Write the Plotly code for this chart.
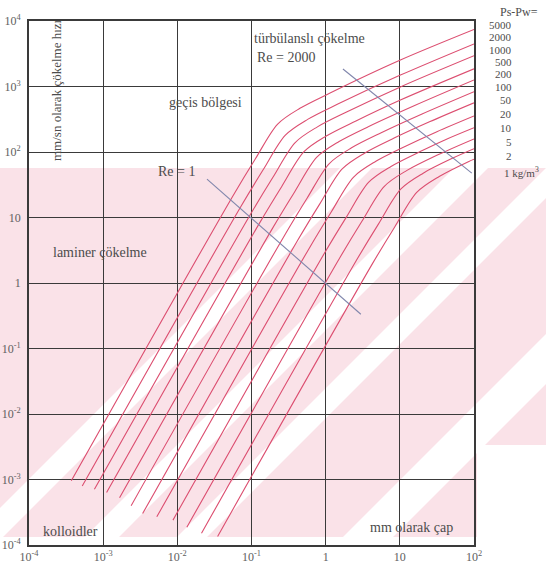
import numpy as np
import plotly.graph_objects as go

# ---------------- values ----------------
# density difference labels (right side), top curve first
density_labels = ["5000", "2000", "1000", "500", "200", "100", "50", "20", "10", "5", "2",
                  "1 kg/m<sup>3</sup>"]

# each curve: log10(diameter, mm) and log10(settling velocity, mm/s)
d_5000 = [-3.43, -1.247, -0.947, -0.647, -0.347, 0.053, 1.0, 2.0]
v_5000 = [-3.02, 1.337, 1.897, 2.427, 2.667, 2.897, 3.40, 3.87]
d_2000 = [-3.282, -1.143, -0.843, -0.543, -0.243, 0.157, 1.0, 2.0]
v_2000 = [-3.10, 1.168, 1.728, 2.258, 2.498, 2.728, 3.17, 3.65]
d_1000 = [-3.118, -1.011, -0.711, -0.411, -0.111, 0.289, 1.0, 2.0]
v_1000 = [-3.15, 1.054, 1.614, 2.144, 2.384, 2.614, 2.99, 3.47]
d_500 = [-2.954, -0.892, -0.592, -0.292, 0.008, 0.408, 1.0, 2.0]
v_500 = [-3.20, 0.914, 1.474, 2.004, 2.244, 2.474, 2.79, 3.27]
d_200 = [-2.779, -0.719, -0.419, -0.119, 0.181, 0.581, 1.2, 2.0]
v_200 = [-3.28, 0.83, 1.39, 1.92, 2.16, 2.39, 2.71, 3.10]
d_100 = [-2.623, -0.551, -0.251, 0.049, 0.349, 0.749, 1.3, 2.0]
v_100 = [-3.40, 0.734, 1.294, 1.824, 2.064, 2.294, 2.58, 2.92]
d_50 = [-2.468, -0.377, -0.077, 0.223, 0.523, 0.923, 1.4, 2.0]
v_50 = [-3.52, 0.652, 1.212, 1.742, 1.982, 2.212, 2.46, 2.75]
d_20 = [-2.277, -0.223, 0.077, 0.377, 0.677, 1.077, 1.5, 2.0]
v_20 = [-3.57, 0.528, 1.088, 1.618, 1.858, 2.088, 2.31, 2.55]
d_10 = [-2.059, -0.019, 0.281, 0.581, 0.881, 1.281, 1.6, 2.0]
v_10 = [-3.62, 0.45, 1.01, 1.54, 1.78, 2.01, 2.18, 2.37]
d_5 = [-1.872, 0.191, 0.491, 0.791, 1.091, 1.491, 2.0]
v_5 = [-3.73, 0.386, 0.946, 1.476, 1.716, 1.946, 2.20]
d_2 = [-1.674, 0.415, 0.715, 1.015, 1.315, 1.715, 2.0]
v_2 = [-3.82, 0.347, 0.907, 1.437, 1.677, 1.907, 2.05]
d_1 = [-1.457, 0.631, 0.931, 1.231, 1.531, 1.931, 2.0]
v_1 = [-3.87, 0.296, 0.856, 1.386, 1.626, 1.856, 1.89]

# Reynolds-number guide lines (diameter mm, velocity mm/s)
re1_d = [0.0251, 2.98]
re1_v = [38.5, 0.333]
re2000_d = [1.71, 93.3]
re2000_v = [1848, 47.5]

# axis ticks
x_tickvals = [1e-4, 1e-3, 1e-2, 1e-1, 1, 10, 100]
x_ticktext = ["10<sup>-4</sup>", "10<sup>-3</sup>", "10<sup>-2</sup>", "10<sup>-1</sup>", "1", "10", "10<sup>2</sup>"]
y_tickvals = [1e-4, 1e-3, 1e-2, 1e-1, 1, 10, 100, 1e3, 1e4]
y_ticktext = ["10<sup>-4</sup>", "10<sup>-3</sup>", "10<sup>-2</sup>", "10<sup>-1</sup>", "1", "10",
              "10<sup>2</sup>", "10<sup>3</sup>", "10<sup>4</sup>"]

curves_d = [d_5000, d_2000, d_1000, d_500, d_200, d_100, d_50, d_20, d_10, d_5, d_2, d_1]
curves_v = [v_5000, v_2000, v_1000, v_500, v_200, v_100, v_50, v_20, v_10, v_5, v_2, v_1]

# ---------------- figure ----------------
W, H = 546, 573
L, R, T, B = 29, 474, 21, 545          # plot frame in window pixels
SERIF = "Liberation Serif"
TXT = "#4c4c4c"
GRID = "#3a3a3a"


def P(px, py):
    return (px - L) / (R - L), (B - py) / (B - T)


fig = go.Figure()

for dd, vv in zip(curves_d, curves_v):
    fig.add_trace(go.Scatter(
        x=10 ** np.array(dd), y=10 ** np.array(vv), mode="lines",
        line=dict(color="rgb(220,78,112)", width=1.1, shape="spline", smoothing=0.9),
        hoverinfo="skip"))

for xs, ys in ((re1_d, re1_v), (re2000_d, re2000_v)):
    fig.add_trace(go.Scatter(x=xs, y=ys, mode="lines",
                             line=dict(color="rgb(128,134,172)", width=1.1),
                             hoverinfo="skip"))

# pale pink watermark of the scanned page
shapes = []


def poly(pts, color):
    path = "M " + " L ".join(f"{P(x, y)[0]:.4f},{P(x, y)[1]:.4f}" for x, y in pts) + " Z"
    shapes.append(dict(type="path", xref="paper", yref="paper", path=path,
                       fillcolor=color, line=dict(width=0), layer="below"))


PINK = "rgb(250,226,232)"
poly([(0, 168), (546, 168), (546, 537), (0, 537)], PINK)
top, bot = 168, 537
for k1, k2 in ((508, 540), (622, 656), (714, 744), (880, 930)):
    poly([(k1 - bot, bot), (k2 - bot, bot), (k2 - top, top), (k1 - top, top)], "white")
poly([(477, 445), (546, 445), (546, 537), (477, 537)], "white")

fig.update_layout(shapes=shapes)

annotations = []


def ann(text, px, py, xanchor="left", size=14, angle=0):
    x, y = P(px, py)
    annotations.append(dict(text=text, x=x, y=y, xref="paper", yref="paper",
                            xanchor=xanchor, yanchor="middle", showarrow=False,
                            textangle=angle, borderpad=0,
                            font=dict(family=SERIF, size=size, color=TXT)))


ann("türbülanslı çökelme", 253, 38)
ann("Re = 2000", 256, 57)
ann("geçis bölgesi", 168, 103)
ann("Re = 1", 157, 172)
ann("laminer çökelme", 52, 252)
ann("kolloidler", 42, 531)
ann("mm olarak çap", 369, 527)
ann("mm/sn olarak çökelme hızı", 57, 90, xanchor="center", size=13, angle=-90)
ann("Ps-Pw=", 499, 12, size=12)

label_y = [25, 37.5, 50, 62, 74, 86.5, 100, 114, 128, 142, 156, 172]
for lab, py in zip(density_labels[:-1], label_y[:-1]):
    ann(lab, 513, py, xanchor="right", size=11)
ann(density_labels[-1], 503, label_y[-1], size=11)

fig.update_layout(annotations=annotations)

axis_common = dict(type="log", showgrid=True, gridcolor=GRID, gridwidth=1.4,
                   showline=True, linecolor=GRID, linewidth=1.6, mirror=True,
                   zeroline=False, ticks="", automargin=False,
                   tickfont=dict(family=SERIF, size=12, color="#606060"))

fig.update_xaxes(range=[-4, 2], tickvals=x_tickvals, ticktext=x_ticktext, **axis_common)
fig.update_yaxes(range=[-4, 4], tickvals=y_tickvals, ticktext=y_ticktext,
                 ticklabelstandoff=4, **axis_common)

fig.update_layout(width=W, height=H,
                  margin=dict(l=L, r=W - R, t=T, b=H - B, autoexpand=False),
                  plot_bgcolor="rgba(0,0,0,0)", paper_bgcolor="white",
                  showlegend=False)

fig.write_html("out.html", config={"displayModeBar": False},
               post_script="document.body.style.margin='0';document.body.style.overflow='hidden';")
